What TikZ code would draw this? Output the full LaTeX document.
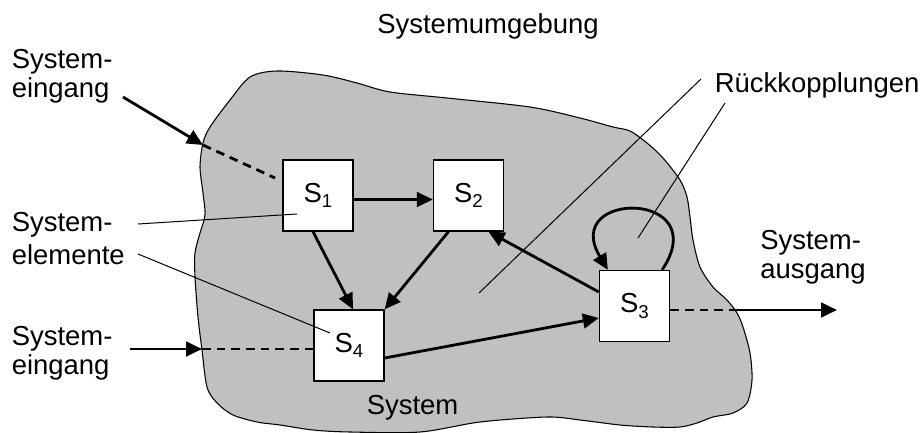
\documentclass[tikz,border=0pt]{standalone}
\usepackage{fontspec}
\setmainfont{Liberation Sans}
\usetikzlibrary{arrows.meta,calc}
\definecolor{sysgray}{RGB}{192,192,192}

\begin{document}
\begin{tikzpicture}[x=0.75pt,y=-0.75pt,
  font=\fontsize{20.6}{21.2}\selectfont,
  elem/.style={draw, fill=white, line width=1pt, minimum width=52.5pt, minimum height=53.25pt, inner sep=0pt},
  flow/.style={line width=2.1pt, -{Triangle[length=12pt,width=11pt]}},
  link/.style={line width=2.1pt, dash pattern=on 6.5pt off 4.5pt},
  lead/.style={line width=0.75pt},
  lbl/.style={anchor=base west, align=left, inner sep=0pt}]
\useasboundingbox (0,0) rectangle (924,432);

% system boundary
\draw[fill=sysgray, line width=0.8pt] plot[smooth cycle, tension=0.5] coordinates {
  (277,71) (323,75) (357,83) (390,92) (447,98) (530,107) (580,118) (613,127)
  (630,131) (647,143) (663,158) (680,180) (687,197) (690,217) (693,240) (700,267)
  (713,287) (727,300) (737,313) (743,327) (750,353) (752,380) (747,403) (733,413)
  (713,417) (697,423) (680,427) (653,427) (620,425) (580,420) (547,417) (480,422)
  (420,432) (350,432) (313,430) (280,425) (257,422) (233,415) (217,403) (207,387)
  (202,350) (198,317) (195,277) (195,253) (200,233) (205,215) (203,193) (200,167)
  (203,143) (210,127) (230,100) (250,77)};

% labels
\node[anchor=base, inner sep=0pt] (env) at (488,33) {Systemumgebung};
\node[lbl] (in1) at (11.5,97) {System-\\eingang};
\node[lbl] (elem) at (11.5,264) {System-\\[3.5pt]elemente};
\node[lbl] (in2) at (11.5,374) {System-\\eingang};
\node[lbl] (out) at (760,278) {System-\\ausgang};
\node[lbl] (fb) at (714.5,92) {Rückkopplungen};
\node[lbl] (sys) at (366.5,414) {System};

% elements
\node[elem] (S1) at (318,195.5) {S\raisebox{-4pt}{\fontsize{14}{14}\selectfont 1}};
\node[elem] (S2) at (468.5,195.5) {S\raisebox{-4pt}{\fontsize{14}{14}\selectfont 2}};
\node[elem] (S3) at (634.5,306) {S\raisebox{-4pt}{\fontsize{14}{14}\selectfont 3}};
\node[elem] (S4) at (349,345.5) {S\raisebox{-4pt}{\fontsize{14}{14}\selectfont 4}};

\coordinate (in1a) at (123,97);
\coordinate (in1b) at (203,145);
\coordinate (in1c) at (275,178);
\coordinate (in2a) at (130,349);
\coordinate (in2b) at (202,349);
\coordinate (outa) at (732,310);
\coordinate (outb) at (837,310);
\coordinate (elemA) at (138,224);
\coordinate (elemB) at (297,214);
\coordinate (elemC) at (138,254);
\coordinate (elemD) at (330,333);
\coordinate (fbA) at (701,79);
\coordinate (fbB) at (479,293);
\coordinate (fbC) at (725,103);
\coordinate (fbD) at (638,238);

% leader lines
\draw[lead] (elemA) -- (elemB);
\draw[lead] (elemC) -- (elemD);
\draw[lead] (fbA) -- (fbB);
\draw[lead] (fbC) -- (fbD);

% inputs and output
\draw[flow] (in1a) -- (in1b);
\draw[link] (in1b) -- (in1c);
\draw[flow] (in2a) -- (in2b);
\draw[link] (in2b) -- ($(S4.west)+(0,3.5)$);
\draw[link] ($(S3.east)+(0,4)$) -- (outa);
\draw[flow] (outa) -- (outb);

% couplings
\draw[flow] ($(S1.east)+(0,4)$) -- ($(S2.west)+(0,4)$);
\draw[flow] ($(S1.south)+(-5,0)$) -- ($(S4.north)+(4,0)$);
\draw[flow] ($(S2.south)+(-20,0)$) -- (S4.north east);
\draw[flow] ($(S4.east)+(0,12.5)$) -- ($(S3.west)+(0,12)$);
\draw[flow] ($(S3.west)+(0,-14)$) -- ($(S2.south)+(20,0)$);
\draw[flow] ($(S3.north east)+(-8,0)$) .. controls +(53,-80) and +(-48,-80) .. ($(S3.north west)+(9,0)$);
\end{tikzpicture}
\end{document}
